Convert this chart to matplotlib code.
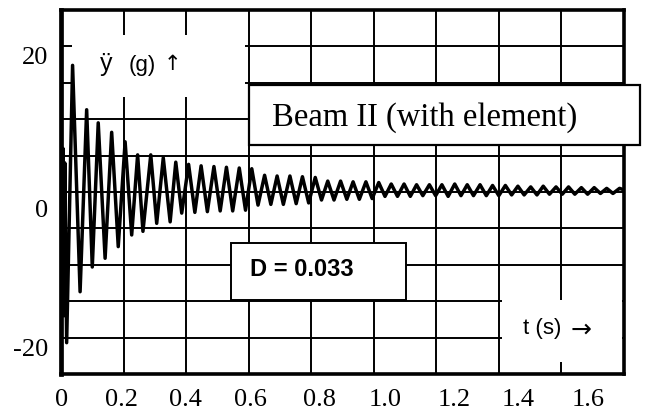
import numpy as np
import matplotlib
matplotlib.use('Agg')
import matplotlib.pyplot as plt
from matplotlib.patches import Rectangle

# peaks of the acceleration signal (t in s, y in g)
t_start = [0.0, 0.003, 0.006, 0.009, 0.012]
y_start = [0.0, -14.0, 6.0, -17.0, 4.0]

t_pos = [0.037, 0.082, 0.119, 0.162, 0.205, 0.245, 0.287, 0.327, 0.367, 0.408,
         0.448, 0.489, 0.529, 0.570, 0.610, 0.651, 0.691, 0.732, 0.772, 0.813,
         0.853, 0.894, 0.934, 0.975, 1.016, 1.056, 1.097, 1.137, 1.178, 1.218,
         1.259, 1.299, 1.340, 1.380, 1.421, 1.461, 1.502, 1.542, 1.583, 1.623,
         1.664, 1.705, 1.745, 1.786]
y_pos = [17.4, 11.3, 9.5, 8.2, 6.9, 5.1, 5.1, 4.7, 4.1, 3.8,
         3.6, 3.5, 3.4, 3.3, 3.2, 2.3, 2.2, 2.2, 2.1, 2.0,
         1.5, 1.5, 1.4, 1.4, 1.3, 1.1, 1.1, 1.0, 1.0, 1.0,
         1.1, 1.0, 1.0, 0.9, 0.9, 0.8, 0.7, 0.8, 0.7, 0.7,
         0.6, 0.6, 0.5, 0.5]

t_neg = [0.018, 0.061, 0.100, 0.141, 0.183, 0.226, 0.262, 0.306, 0.349, 0.386,
         0.428, 0.468, 0.509, 0.549, 0.590, 0.630, 0.671, 0.711, 0.752, 0.792,
         0.833, 0.873, 0.914, 0.954, 0.995, 1.036, 1.076, 1.117, 1.157, 1.198,
         1.238, 1.279, 1.319, 1.360, 1.400, 1.441, 1.481, 1.522, 1.562, 1.603,
         1.643, 1.684, 1.725, 1.765]
y_neg = [-20.7, -13.7, -10.3, -9.1, -7.5, -5.9, -5.4, -4.3, -4.1, -2.9,
         -2.8, -2.7, -2.6, -2.6, -2.5, -1.8, -1.7, -1.7, -1.6, -1.5,
         -1.1, -1.1, -1.0, -1.0, -0.9, -0.6, -0.6, -0.6, -0.5, -0.5,
         -0.6, -0.5, -0.5, -0.5, -0.5, -0.4, -0.4, -0.4, -0.3, -0.3,
         -0.3, -0.3, -0.2, -0.2]

t_end = [1.8]
y_end = [0.3]

xtick_labels = ['0', '0.2', '0.4', '0.6', '0.8', '1.0', '1.2', '1.4', '1.6']
xlabel_at = [0.003, 0.195, 0.397, 0.605, 0.826, 1.037, 1.258, 1.462, 1.686]
ytick_labels = ['20', '0', '-20']
ylabel_at = [18.8, -2.2, -21.3]

# merge all points in time order
t = np.array(t_start + t_pos + t_neg + t_end)
y = np.array(y_start + y_pos + y_neg + y_end)
order = np.argsort(t)
t, y = t[order], y[order]

serif = 'Liberation Serif'
sans = 'Liberation Sans'

fig = plt.figure(figsize=(6.47, 4.18), dpi=100)
ax = fig.add_axes([0.0943, 0.1053, 0.870, 0.8707])

ax.set_xlim(0, 1.8)
ax.set_ylim(-25, 25)

# grid on major ticks, labels on minor ticks (labels sit off the grid in the original)
ax.set_xticks(np.arange(0.2, 1.61, 0.2))
ax.set_yticks(np.arange(-20, 21, 5))
ax.set_xticklabels([])
ax.set_yticklabels([])
ax.tick_params(which='major', length=0)
ax.set_xticks(xlabel_at, labels=xtick_labels, minor=True)
ax.set_yticks(ylabel_at, labels=ytick_labels, minor=True)
ax.tick_params(which='minor', length=0, labelsize=19)
ax.tick_params(axis='x', which='minor', pad=11)
ax.tick_params(axis='y', which='minor', pad=9)
for lab in ax.get_xticklabels(minor=True) + ax.get_yticklabels(minor=True):
    lab.set_fontfamily(serif)

ax.grid(which='major', color='black', lw=1.4)
ax.set_axisbelow(True)

for side in ['top', 'right', 'bottom']:
    ax.spines[side].set_linewidth(2.6)
ax.spines['left'].set_linewidth(3.4)

ax.plot(t, y, color='black', lw=2.5, zorder=5)

# white patches hiding grid behind labels
ax.add_patch(Rectangle((0.035, 13.0), 0.554, 8.6, facecolor='white',
                       edgecolor='none', zorder=3))
ax.add_patch(Rectangle((1.410, -23.4), 0.384, 8.6, facecolor='white',
                       edgecolor='none', zorder=3))

# framed boxes
ax.add_patch(Rectangle((0.602, 6.5), 1.248, 8.2, facecolor='white',
                       edgecolor='black', lw=1.6, zorder=4, clip_on=False))
ax.add_patch(Rectangle((0.543, -14.9), 0.560, 7.9, facecolor='white',
                       edgecolor='black', lw=1.4, zorder=4))

ax.text(1.164, 10.2, 'Beam II (with element)', family=serif, fontsize=23.5,
        ha='center', va='center', zorder=6)
ax.text(0.605, -10.7, 'D = 0.033', family=sans, fontsize=17, weight='bold',
        ha='left', va='center', zorder=6)
ax.text(1.476, -18.7, 't (s)', family=sans, fontsize=16,
        ha='left', va='center', zorder=6)
ax.text(1.663, -18.9, '\u2192', family='DejaVu Sans', fontsize=18,
        ha='center', va='center', zorder=6)
ax.text(0.144, 17.6, '\u00ff', family=sans, fontsize=18,
        ha='center', va='center', zorder=6)
ax.text(0.215, 17.4, '(g)', family=sans, fontsize=16,
        ha='left', va='center', zorder=6)
ax.text(0.355, 17.6, '\u2191', family='DejaVu Sans', fontsize=15,
        ha='center', va='center', zorder=6)

fig.savefig('out.png', dpi=100)
